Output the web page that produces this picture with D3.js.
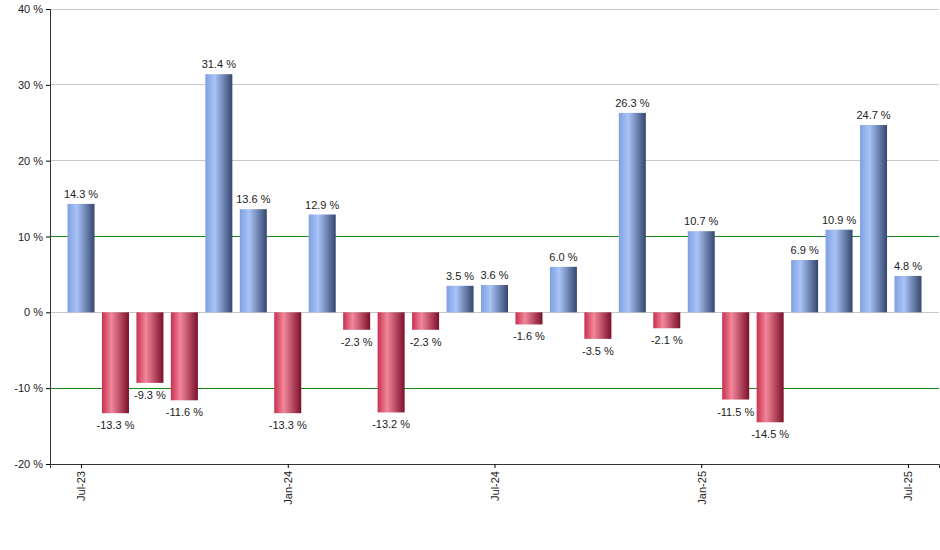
<!DOCTYPE html>
<html><head><meta charset="utf-8">
<script src="https://cdn.jsdelivr.net/npm/d3@7"></script>
<style>body{margin:0;background:#fff}text{font-family:Arial,"Liberation Sans",sans-serif}</style>
</head><body><svg id="c" width="940" height="550"></svg>
<script>
const months=["Jul-23","Aug-23","Sep-23","Oct-23","Nov-23","Dec-23","Jan-24","Feb-24","Mar-24","Apr-24","May-24","Jun-24","Jul-24","Aug-24","Sep-24","Oct-24","Nov-24","Dec-24","Jan-25","Feb-25","Mar-25","Apr-25","May-25","Jun-25","Jul-25"];
const values=[14.3,-13.3,-9.3,-11.6,31.4,13.6,-13.3,12.9,-2.3,-13.2,-2.3,3.5,3.6,-1.6,6.0,-3.5,26.3,-2.1,10.7,-11.5,-14.5,6.9,10.9,24.7,4.8];
const tickLabels=["Jul-23","Jan-24","Jul-24","Jan-25","Jul-25"];
const yTicks=[-20,-10,0,10,20,30,40];
const svg=d3.select("#c");
const L=50,R=939,T=9,B=464;
const x=d3.scaleLinear().domain([-0.9,months.length-1+0.9]).range([L,R]);
const y=d3.scaleLinear().domain([-20,40]).range([B,T]);
const defs=svg.append("defs");
function grad(id,c1,c2,c3){const g=defs.append("linearGradient").attr("id",id);
g.append("stop").attr("offset","0%").attr("stop-color",c1);
g.append("stop").attr("offset","35%").attr("stop-color",c2);
g.append("stop").attr("offset","100%").attr("stop-color",c3);}
grad("gb","#7f9fe0","#a9c4f7","#34466e");
grad("gr","#c8304f","#f2879b","#7c0f2a");
svg.append("g").selectAll("line").data(yTicks).join("line")
 .attr("x1",L).attr("x2",R).attr("y1",d=>y(d)).attr("y2",d=>y(d))
 .attr("stroke",d=>Math.abs(d)===10?"#1a8a1a":"#c8c8c8").attr("stroke-width",1).attr("shape-rendering","crispEdges");
const bw=27;
svg.append("g").selectAll("rect").data(values).join("rect")
 .attr("x",(d,i)=>x(i)-bw/2).attr("width",bw)
 .attr("y",d=>y(Math.max(0,d))).attr("height",d=>Math.abs(y(d)-y(0)))
 .attr("fill",d=>d>=0?"url(#gb)":"url(#gr)");
svg.append("g").selectAll("text").data(values).join("text")
 .attr("x",(d,i)=>x(i)).attr("y",d=>d>=0?y(d)-6:y(d)+16)
 .attr("text-anchor","middle").attr("font-size",11).attr("fill","#222")
 .text(d=>d.toFixed(1)+" %");
const ya=svg.append("g").attr("transform",`translate(${L},0)`).call(d3.axisLeft(y).tickValues(yTicks).tickSize(4).tickFormat(d=>d+" %"));
ya.selectAll("text").attr("font-size",11).attr("fill","#222");
ya.select(".domain").attr("stroke","#333");
const xa=svg.append("g").attr("transform",`translate(0,${B})`).call(d3.axisBottom(x).tickValues(tickLabels.map(t=>months.indexOf(t))).tickSize(4).tickFormat(i=>months[i]));
xa.select(".domain").attr("stroke","#333");
xa.selectAll("text").attr("font-size",11).attr("fill","#222").attr("transform","rotate(-90)").attr("text-anchor","end").attr("x",-7).attr("y",0).attr("dy","0.35em");
</script></body></html>
